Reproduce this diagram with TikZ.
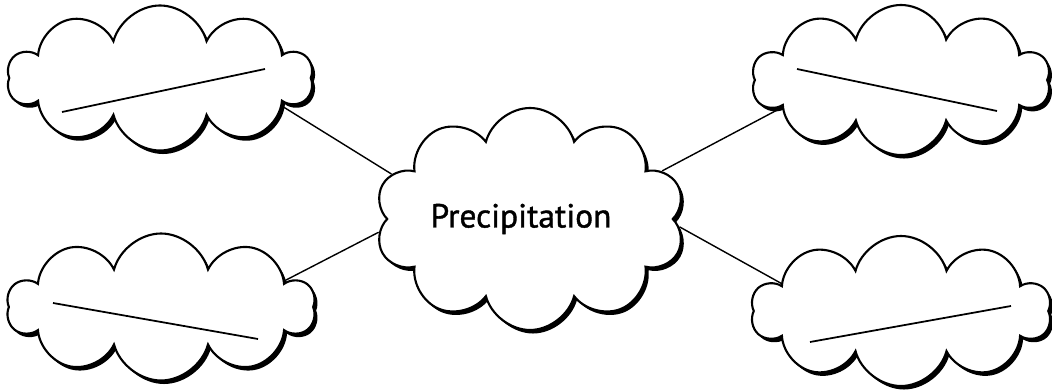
\documentclass[tikz,border=0pt]{standalone}
\usepackage{fontspec}
\setmainfont{PT Sans}
\newfontfamily\labelfont{PT Sans}[FakeBold=1.2]
\usetikzlibrary{shapes.symbols}

\tikzset{
  puff/.style={cloud, cloud puffs=10, cloud ignores aspect, draw, line width=1.2pt,
    fill=white, inner sep=0pt,
    preaction={fill=black, transform canvas={shift={(1.7pt,-2pt)}}}},
  bigpuff/.style={puff, cloud puffs=10},
  blank/.style={line width=1pt},
  link/.style={line width=0.8pt}
}

\begin{document}
\begin{tikzpicture}
\useasboundingbox (0,0) rectangle (21.04,7.82);

\node[bigpuff, minimum width=6.2cm, minimum height=4.44cm] (c) at (10.6,3.44)
  {\labelfont\fontsize{19}{22}\selectfont Precipitation\kern0.36cm};

\node[puff, minimum width=6.1cm, minimum height=2.9cm] (tl) at (3.2,6.26) {};
\node[puff, minimum width=6.16cm, minimum height=2.94cm] (bl) at (3.22,1.68) {};
\node[puff, minimum width=5.96cm, minimum height=3.0cm] (tr) at (18.02,6.22) {};
\node[puff, minimum width=6.0cm, minimum height=3.0cm] (br) at (18.02,1.6) {};

% blanks to fill in
\draw[blank, shift={(tl.center)}] (-1.96,-0.68) -- (2.1,0.18);
\draw[blank, shift={(bl.center)}] (-2.16,0.08) -- (1.94,-0.64);
\draw[blank, shift={(tr.center)}] (-2.08,0.22) -- (1.92,-0.62);
\draw[blank, shift={(br.center)}] (-1.82,-0.62) -- (2.2,0.1);

\draw[link] (c.162) -- (tl.-13.5);
\draw[link] (c.185) -- (bl.12);
\draw[link] (c.20) -- (tr.193);
\draw[link] (c.-3) -- (br.167);
\end{tikzpicture}
\end{document}
